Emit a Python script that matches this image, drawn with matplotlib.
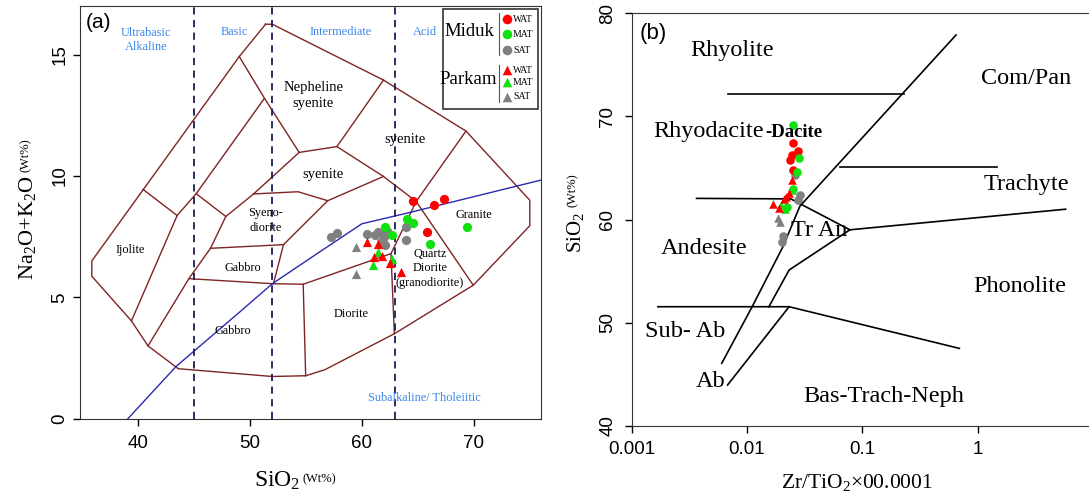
import matplotlib
matplotlib.use('Agg')
import matplotlib.pyplot as plt
from matplotlib.patches import Rectangle

# ---------------- data: panel (a) TAS, SiO2 vs Na2O+K2O ----------------
miduk_wat_si = [64.6, 66.45, 67.35, 65.8]
miduk_wat_alk = [8.95, 8.82, 9.05, 7.7]
miduk_mat_si = [62.1, 62.65, 64.05, 64.55, 66.05, 69.35]
miduk_mat_alk = [7.9, 7.57, 8.22, 8.05, 7.2, 7.88]
miduk_sat_si = [57.2, 57.75, 60.45, 61.45, 61.95, 62.2, 61.7, 62.05, 63.95, 63.95, 61.2]
miduk_sat_alk = [7.5, 7.65, 7.62, 7.68, 7.5, 7.75, 7.3, 7.15, 7.9, 7.37, 7.55]
parkam_wat_si = [60.45, 61.4, 61.1, 61.8, 62.55, 63.5]
parkam_wat_alk = [7.27, 7.2, 6.65, 6.7, 6.4, 6.03]
parkam_mat_si = [61.0, 61.45, 62.65]
parkam_mat_alk = [6.35, 6.85, 6.6]
parkam_sat_si = [59.5, 59.45]
parkam_sat_alk = [7.07, 5.95]

# ---------------- data: panel (b) Zr/TiO2 vs SiO2 ----------------
b_miduk_wat_zr = [0.0249, 0.0279, 0.0244, 0.0236, 0.0252]
b_miduk_wat_si = [67.4, 66.6, 66.3, 65.8, 64.8]
b_miduk_mat_zr = [0.0252, 0.0283, 0.027, 0.0252, 0.0221]
b_miduk_mat_si = [69.2, 66.0, 64.6, 63.0, 61.2]
b_miduk_sat_zr = [0.0261, 0.0288, 0.0279, 0.0206, 0.0203]
b_miduk_sat_si = [64.3, 62.4, 61.9, 58.4, 57.85]
b_parkam_wat_zr = [0.0245, 0.023, 0.022, 0.021, 0.0168, 0.0188]
b_parkam_wat_si = [63.8, 62.6, 62.2, 61.95, 61.5, 61.1]
b_parkam_mat_zr = [0.0214, 0.0196, 0.0245]
b_parkam_mat_si = [61.0, 61.4, 62.9]
b_parkam_sat_zr = [0.0185, 0.0195]
b_parkam_sat_si = [60.1, 59.8]

# TAS field boundaries (SiO2, Na2O+K2O)
tas_lines = [
    [(51.4, 16.25), (52.0, 16.25), (61.93, 13.95), (69.3, 11.85), (75.0, 9.0), (75.0, 7.95),
     (69.95, 5.5), (62.9, 3.5), (56.7, 2.02), (54.98, 1.77), (52.0, 1.74), (43.6, 2.06),
     (40.9, 3.0), (39.42, 4.03), (35.88, 5.87), (35.88, 6.5), (49.05, 14.92), (51.4, 16.25)],
    [(49.05, 14.92), (51.3, 13.2), (54.4, 10.97), (57.77, 11.21), (61.93, 13.95)],
    [(57.77, 11.21), (61.93, 9.98), (64.85, 8.95)],
    [(69.3, 11.85), (64.85, 8.95), (69.95, 5.5)],
    [(64.85, 8.95), (62.6, 6.8), (62.9, 3.5)],
    [(44.55, 5.77), (52.1, 5.56), (54.76, 5.54), (62.6, 6.8)],
    [(54.76, 5.54), (54.98, 1.77)],
    [(51.3, 13.2), (45.2, 9.27), (43.5, 8.37), (39.42, 4.03)],
    [(40.45, 9.45), (43.5, 8.37)],
    [(45.2, 9.27), (47.85, 8.33)],
    [(54.4, 10.97), (50.33, 9.26), (47.85, 8.33), (46.48, 7.02), (44.55, 5.77), (40.9, 3.0)],
    [(46.48, 7.02), (53.0, 7.17)],
    [(50.33, 9.26), (54.3, 9.35), (56.95, 8.98), (61.93, 9.98)],
    [(56.95, 8.98), (53.0, 7.17), (52.1, 5.56)],
]
alk_line_si = [39.1, 43.4, 49.1, 52.0, 56.0, 60.0, 64.4, 76.0]
alk_line_alk = [0.0, 2.15, 4.4, 5.56, 6.8, 8.03, 8.51, 9.83]
silica_div = [45, 52, 63]

# Winchester & Floyd boundaries (Zr/TiO2, SiO2)
wf_lines = [
    [(0.0068, 72.2), (0.229, 72.2)],
    [(0.649, 77.9), (0.0288, 61.3), (0.0206, 57.4), (0.0111, 51.54), (0.00605, 46.05)],
    [(0.0637, 65.1), (1.47, 65.1)],
    [(0.00366, 62.05), (0.024, 62.0), (0.078, 59.0), (5.77, 61.0)],
    [(0.078, 59.0), (0.0232, 55.1), (0.0155, 51.54)],
    [(0.00169, 51.54), (0.0232, 51.54), (0.693, 47.5)],
    [(0.0232, 51.54), (0.0068, 43.95)],
]

RED = '#ff0000'
GREEN = '#11e011'
GRAY = '#808080'
BROWN = '#7d2424'
LBLUE = '#3a86e8'
SERIF = 'Liberation Serif'
SANS = 'Liberation Sans'

plt.rcParams['font.family'] = SANS
plt.rcParams['mathtext.fontset'] = 'custom'
plt.rcParams['mathtext.rm'] = SERIF
plt.rcParams['mathtext.it'] = SERIF + ':italic'

fig = plt.figure(figsize=(10.89, 4.95), dpi=100)
ax1 = fig.add_axes([0.0732, 0.1541, 0.4236, 0.8337])
ax2 = fig.add_axes([0.5799, 0.1400, 0.4239, 0.8331])

# ---------------- panel (a) ----------------
for seg in tas_lines:
    xs, ys = zip(*seg)
    ax1.plot(xs, ys, color=BROWN, lw=1.0, zorder=2)
ax1.plot(alk_line_si, alk_line_alk, color='#2a2ab0', lw=1.0, zorder=2)
for sx in silica_div:
    ax1.axvline(sx, color='#1c1c55', lw=1.3, ls=(0, (4, 3)), zorder=2)

ms = 44
ax1.scatter(miduk_sat_si, miduk_sat_alk, s=ms, c=GRAY, marker='o', zorder=4, linewidths=0)
ax1.scatter(miduk_mat_si, miduk_mat_alk, s=ms, c=GREEN, marker='o', zorder=4, linewidths=0)
ax1.scatter(miduk_wat_si, miduk_wat_alk, s=ms, c=RED, marker='o', zorder=4, linewidths=0)
ax1.scatter(parkam_sat_si, parkam_sat_alk, s=ms, c=GRAY, marker='^', zorder=5, linewidths=0)
ax1.scatter(parkam_mat_si, parkam_mat_alk, s=ms, c=GREEN, marker='^', zorder=5, linewidths=0)
ax1.scatter(parkam_wat_si, parkam_wat_alk, s=ms, c=RED, marker='^', zorder=5, linewidths=0)

ax1.set_xlim(34.8, 76.0)
ax1.set_ylim(0, 17)
ax1.set_xticks([40, 50, 60, 70])
ax1.set_yticks([0, 5, 10, 15])
ax1.tick_params(direction='out', length=5, width=1, labelsize=13.5)
ax1.tick_params(axis='x', pad=7)
ax1.tick_params(axis='y', pad=3)
for lab in ax1.get_yticklabels():
    lab.set_rotation(90)
    lab.set_va('center')
for sp in ax1.spines.values():
    sp.set_color('#333333')

blue_labels = [(40.7, 15.6, 'Ultrabasic\nAlkaline'), (48.6, 15.92, 'Basic'),
               (58.1, 15.92, 'Intermediate'), (65.6, 15.92, 'Acid'),
               (65.6, 0.85, 'Subalkaline/ Tholeiitic')]
for x, y, t in blue_labels:
    ax1.text(x, y, t, color=LBLUE, fontsize=8.8, family=SERIF, ha='center', va='center',
             linespacing=1.2)

field_labels = [(55.66, 13.3, 'Nepheline\nsyenite', 10.5), (63.85, 11.5, 'syenite', 10.5),
                (56.57, 10.05, 'syenite', 10.5), (51.44, 8.17, 'Syeno-\ndiorite', 8.8),
                (39.3, 6.94, 'Ijolite', 8.8), (49.39, 6.21, 'Gabbro', 8.8),
                (48.47, 3.6, 'Gabbro', 8.8), (59.08, 4.31, 'Diorite', 8.8),
                (66.06, 6.2, 'Quartz\nDiorite\n(granodiorite)', 8.8), (70.03, 8.41, 'Granite', 8.8)]
for x, y, t, fs in field_labels:
    ax1.text(x, y, t, fontsize=fs, family=SERIF, ha='center', va='center', linespacing=1.3,
             zorder=3)

ax1.text(0.012, 0.96, '(a)', transform=ax1.transAxes, fontsize=15, ha='left', va='center')
ax1.text(0.478, -0.1655, r'SiO$_2$', transform=ax1.transAxes, fontsize=17, family=SERIF,
         ha='right', va='baseline')
ax1.text(0.484, -0.1534, '(Wt%)', transform=ax1.transAxes, fontsize=9, family=SERIF,
         ha='left', va='baseline')
ax1.text(-0.1134, 0.336, r'Na$_2$O+K$_2$O', transform=ax1.transAxes, fontsize=16,
         family=SERIF, rotation=90, rotation_mode='anchor', ha='left', va='center')
ax1.text(-0.118, 0.598, '(Wt%)', transform=ax1.transAxes, fontsize=9,
         family=SERIF, rotation=90, rotation_mode='anchor', ha='left', va='center')

# legend box for panel (a)
ax1.add_patch(Rectangle((0.7865, 0.7504), 0.2075, 0.2423, transform=ax1.transAxes,
                        facecolor='white', edgecolor='#333333', lw=1.2, zorder=6))
ax1.text(0.845, 0.939, 'Miduk', transform=ax1.transAxes, fontsize=13.5, family=SERIF,
         ha='center', va='center', zorder=7)
ax1.text(0.842, 0.821, 'Parkam', transform=ax1.transAxes, fontsize=13.5, family=SERIF,
         ha='center', va='center', zorder=7)
ax1.plot([0.9096, 0.9096], [0.983, 0.881], transform=ax1.transAxes, color='#555555',
         lw=0.8, zorder=7)
ax1.plot([0.9096, 0.9096], [0.857, 0.767], transform=ax1.transAxes, color='#555555',
         lw=0.8, zorder=7)
leg_rows = [(0.9685, RED, 'o', 'WAT'), (0.9314, GREEN, 'o', 'MAT'), (0.8934, GRAY, 'o', 'SAT'),
            (0.845, RED, '^', 'WAT'), (0.815, GREEN, '^', 'MAT'), (0.780, GRAY, '^', 'SAT')]
for y, col, mk, t in leg_rows:
    ax1.scatter([0.9265], [y], s=48, c=col, marker=mk, transform=ax1.transAxes,
                zorder=8, linewidths=0, clip_on=False)
    ax1.text(0.9396, y, t, transform=ax1.transAxes, fontsize=7, family=SERIF,
             ha='left', va='center', zorder=8)

# ---------------- panel (b) ----------------
for seg in wf_lines:
    xs, ys = zip(*seg)
    ax2.plot(xs, ys, color='black', lw=1.2, zorder=2)

mb = 38
ax2.scatter(b_miduk_sat_zr, b_miduk_sat_si, s=mb, c=GRAY, marker='o', zorder=4, linewidths=0)
ax2.scatter(b_miduk_wat_zr, b_miduk_wat_si, s=mb, c=RED, marker='o', zorder=4, linewidths=0)
ax2.scatter(b_miduk_mat_zr, b_miduk_mat_si, s=mb, c=GREEN, marker='o', zorder=4, linewidths=0)
ax2.scatter(b_parkam_sat_zr, b_parkam_sat_si, s=mb, c=GRAY, marker='^', zorder=5, linewidths=0)
ax2.scatter(b_parkam_mat_zr, b_parkam_mat_si, s=mb, c=GREEN, marker='^', zorder=5, linewidths=0)
ax2.scatter(b_parkam_wat_zr, b_parkam_wat_si, s=mb, c=RED, marker='^', zorder=5, linewidths=0)

ax2.set_xscale('log')
ax2.set_xlim(0.001, 10)
ax2.set_ylim(40, 80)
ax2.set_xticks([0.001, 0.01, 0.1, 1])
ax2.set_xticklabels(['0.001', '0.01', '0.1', '1'])
ax2.xaxis.set_minor_locator(matplotlib.ticker.NullLocator())
ax2.set_yticks([40, 50, 60, 70, 80])
ax2.tick_params(direction='out', length=5, width=1, labelsize=13.5)
ax2.tick_params(axis='x', pad=6)
ax2.tick_params(axis='y', pad=6)
for lab in ax2.get_yticklabels():
    lab.set_rotation(90)
    lab.set_va('center')
ax2.spines['right'].set_visible(False)
for sp in ax2.spines.values():
    sp.set_color('#333333')

rock_labels = [(0.00741, 76.44, 'Rhyolite'), (2.61, 73.69, 'Com/Pan'),
               (0.00463, 68.5, 'Rhyodacite'), (2.66, 63.44, 'Trachyte'),
               (0.0426, 58.98, 'Tr An'), (0.00428, 57.2, 'Andesite'),
               (2.32, 53.55, 'Phonolite'), (0.00289, 49.12, 'Sub- Ab'),
               (0.00485, 44.27, 'Ab'), (0.153, 42.8, 'Bas-Trach-Neph')]
for x, y, t in rock_labels:
    ax2.text(x, y, t, fontsize=17.5, family=SERIF, ha='center', va='center', zorder=3)
ax2.text(0.0258, 68.45, '-Dacite', fontsize=13.5, family=SERIF, fontweight='bold',
         ha='center', va='center', zorder=6)

ax2.text(0.018, 0.952, '(b)', transform=ax2.transAxes, fontsize=16, ha='left', va='center')
ax2.text(0.4885, -0.151, r'Zr/TiO$_2$×00.0001', transform=ax2.transAxes, fontsize=15.5,
         family=SERIF, ha='center', va='baseline')
ax2.text(-0.1224, 0.419, r'SiO$_2$', transform=ax2.transAxes, fontsize=15,
         family=SERIF, rotation=90, rotation_mode='anchor', ha='left', va='center')
ax2.text(-0.127, 0.53, '(Wt%)', transform=ax2.transAxes, fontsize=9,
         family=SERIF, rotation=90, rotation_mode='anchor', ha='left', va='center')

fig.savefig('out.png', dpi=100)
